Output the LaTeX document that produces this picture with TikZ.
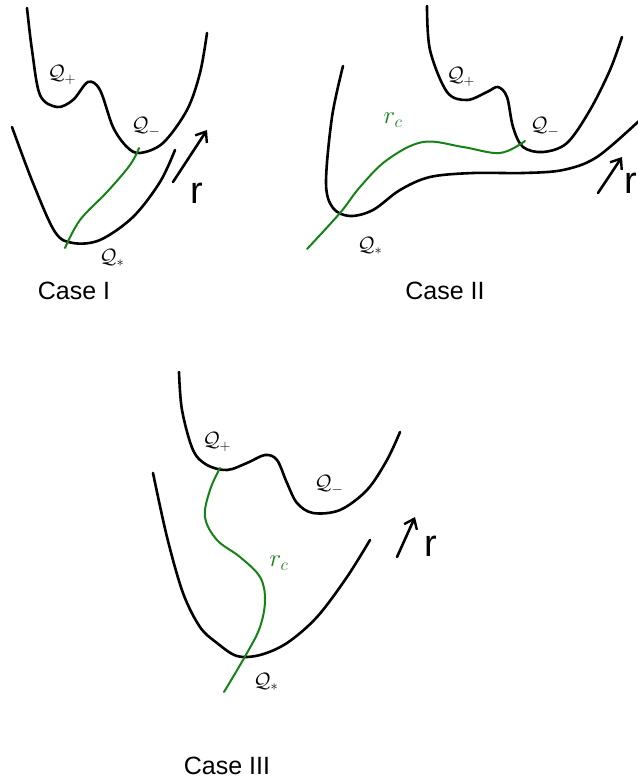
\documentclass[tikz,border=0pt]{standalone}
\usepackage{fontspec}
\setmainfont{Liberation Sans}
\usetikzlibrary{arrows.meta}
\definecolor{pathgreen}{RGB}{20,130,20}
\tikzset{
  well/.style={line width=2.6pt, line cap=round, line join=round},
  rpath/.style={pathgreen, line width=2pt, line cap=round, line join=round},
  rarrow/.style={line width=2.6pt, line cap=round, -{Straight Barb[length=9pt,width=14pt,line width=2.4pt]}},
  qlab/.style={font=\fontsize{22}{24}\selectfont, inner sep=0pt},
  rlab/.style={font=\fontsize{38}{40}\selectfont, inner sep=0pt},
  rclab/.style={pathgreen, font=\fontsize{26}{28}\selectfont, inner sep=0pt},
  caselab/.style={font=\fontsize{25}{28}\selectfont, inner sep=0pt}
}
\begin{document}
\begin{tikzpicture}[x=1pt,y=-1pt]
\useasboundingbox (0,0) rectangle (637,783);
% ---------- Case I ----------
\draw[well] plot[smooth,tension=0.55] coordinates {(27,8) (32,50) (40,95) (57,107) (73,100) (88,82) (100,90) (113,127) (127,147) (140,153) (163,143) (187,110) (200,73) (207,33)};
\draw[well] plot[smooth,tension=0.55] coordinates {(12,127) (33,183) (55,232) (73,243) (100,240) (133,217) (160,182) (175,150)};
\draw[rpath] plot[smooth,tension=0.6] coordinates {(65,248) (80,220) (107,192) (130,165) (139,148)};
\coordinate (a1s) at (173,182);
\coordinate (a1e) at (207,130);
\draw[rarrow] (a1s) -- (a1e);
\node[rlab] (r1) at (197,193) {r};
\node[qlab] (qp1) at (62,75) {$\mathcal{Q}_+$};
\node[qlab] (qm1) at (146,127) {$\mathcal{Q}_-$};
\node[qlab] (qs1) at (112,258) {$\mathcal{Q}_*$};
\node[caselab] (c1) at (74,291) {Case I};
% ---------- Case II ----------
\draw[well] plot[smooth,tension=0.55] coordinates {(427,6) (430,50) (447,92) (467,100) (487,92) (498,87) (507,97) (513,127) (523,147) (543,152) (567,143) (590,110) (610,70) (622,37)};
\draw[well] plot[smooth,tension=0.55] coordinates {(343,66) (332,117) (326,183) (333,208) (350,216) (373,210) (400,190) (430,177) (473,173) (523,173) (563,170) (597,157) (640,120)};
\draw[rpath] plot[smooth,tension=0.6] coordinates {(307,249) (340,213) (360,187) (387,160) (423,142) (463,147) (500,153) (525,141)};
\coordinate (a2s) at (598,193);
\coordinate (a2e) at (622,157);
\draw[rarrow] (a2s) -- (a2e);
\node[rlab,anchor=east] (r2) at (637,183) {r};
\node[rclab] (rc2) at (393,120) {$r_c$};
\node[qlab] (qp2) at (461,77) {$\mathcal{Q}_+$};
\node[qlab] (qm2) at (545,127) {$\mathcal{Q}_-$};
\node[qlab] (qs2) at (370,246) {$\mathcal{Q}_*$};
\node[caselab] (c2) at (445,291) {Case II};
% ---------- Case III ----------
\draw[well] plot[smooth,tension=0.55] coordinates {(179,372) (182,410) (193,450) (207,465) (227,470) (247,463) (265,455) (277,460) (287,483) (297,503) (313,513) (340,510) (367,490) (387,460) (400,432)};
\draw[well] plot[smooth,tension=0.55] coordinates {(153,473) (167,537) (183,593) (200,627) (217,643) (237,656) (260,655) (287,643) (317,617) (347,577) (370,540)};
\draw[rpath] plot[smooth,tension=0.6] coordinates {(220,468) (210,490) (205,517) (217,540) (240,557) (260,577) (265,600) (260,627) (247,653) (224,692)};
\coordinate (a3s) at (397,557);
\coordinate (a3e) at (415,517);
\draw[rarrow] (a3s) -- (a3e);
\node[rlab] (r3) at (431,546) {r};
\node[rclab] (rc3) at (279,563) {$r_c$};
\node[qlab] (qp3) at (217,442) {$\mathcal{Q}_+$};
\node[qlab] (qm3) at (329,485) {$\mathcal{Q}_-$};
\node[qlab] (qs3) at (266,682) {$\mathcal{Q}_*$};
\node[caselab] (c3) at (227,766) {Case III};
\end{tikzpicture}
\end{document}
